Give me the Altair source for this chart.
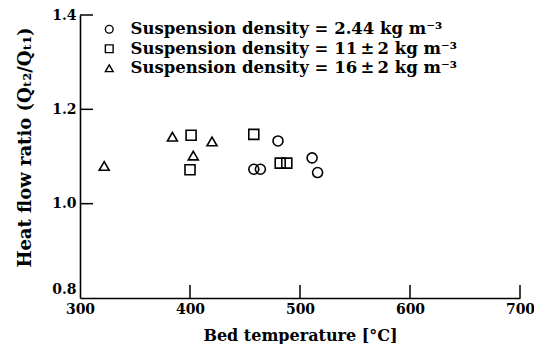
import altair as alt
import pandas as pd

series_labels = [
    "Suspension density = 2.44 kg m\u207b\u00b3",
    "Suspension density = 11\u2009\u00b1\u20092 kg m\u207b\u00b3",
    "Suspension density = 16\u2009\u00b1\u20092 kg m\u207b\u00b3",
]
circle_T = [480, 458, 464, 511, 516]
circle_Q = [1.133, 1.073, 1.073, 1.097, 1.066]
square_T = [401, 400, 458, 482, 488]
square_Q = [1.145, 1.072, 1.147, 1.086, 1.086]
triangle_T = [322, 384, 403, 420]
triangle_Q = [1.080, 1.142, 1.102, 1.132]

x_ticks = [300, 400, 500, 600, 700]
y_ticks = [0.8, 1.0, 1.2, 1.4]

rows = []
for lab, T, Q in [(series_labels[0], circle_T, circle_Q),
                  (series_labels[1], square_T, square_Q),
                  (series_labels[2], triangle_T, triangle_Q)]:
    for t, q in zip(T, Q):
        rows.append({"T": t, "Q": q, "series": lab})
df = pd.DataFrame(rows)

FONT = "DejaVu Serif"
W, H = 440, 283

xs = alt.Scale(domain=[300, 700], nice=False)
ys = alt.Scale(domain=[0.8, 1.4], nice=False)

points = alt.Chart(df).mark_point(filled=False, color="black", strokeWidth=1.6, size=100, opacity=1).encode(
    x=alt.X("T:Q", scale=xs, title="Bed temperature [\u00b0C]",
            axis=alt.Axis(values=x_ticks, ticks=False, grid=False, format="d", labelFlush=False)),
    y=alt.Y("Q:Q", scale=ys, title="Heat flow ratio (Q\u209c\u2082/Q\u209c\u2081)",
            axis=alt.Axis(values=y_ticks, ticks=False, grid=False, format=".1f", labelFlush=False,
                          labelOffset=alt.expr("datum.value < 0.9 ? -9 : 0"),
                          titleFontSize=18, titleY=132)),
    shape=alt.Shape("series:N",
                    scale=alt.Scale(domain=series_labels, range=["circle", "square", "triangle-up"]),
                    legend=alt.Legend(title=None, orient="none", legendX=21, legendY=6,
                                      symbolSize=60, symbolStrokeWidth=1.4, symbolFillColor="transparent",
                                      symbolStrokeColor="black", labelFont=FONT, labelFontSize=16.5,
                                      labelFontWeight="bold", labelColor="black", rowPadding=2.5,
                                      labelOffset=13, labelLimit=0)),
)

xt = pd.DataFrame({"v": x_ticks[1:]})
yt = pd.DataFrame({"v": y_ticks[1:]})
xtick_layer = alt.Chart(xt).mark_rule(color="black", strokeWidth=1.5).encode(
    x=alt.X("v:Q", scale=xs), y=alt.value(H), y2=alt.value(H - 13))
ytick_layer = alt.Chart(yt).mark_rule(color="black", strokeWidth=1.5).encode(
    y=alt.Y("v:Q", scale=ys), x=alt.value(0), x2=alt.value(13))

chart = alt.layer(points, xtick_layer, ytick_layer).properties(
    width=W, height=H,
    autosize=alt.AutoSizeParams(type="none"),
    padding={"left": 72, "top": 7, "right": 14, "bottom": 46},
).configure_view(stroke=None).configure_axis(
    domainColor="black", domainWidth=1.6, labelFont=FONT, labelFontSize=14,
    labelFontWeight="bold", labelColor="black", titleFont=FONT, titleFontSize=16,
    titleFontWeight="bold", titleColor="black", labelPadding=4,
).configure_axisX(titlePadding=11).configure_axisY(titlePadding=17)

chart.save("out.html", embed_options={"renderer": "svg", "actions": False})
